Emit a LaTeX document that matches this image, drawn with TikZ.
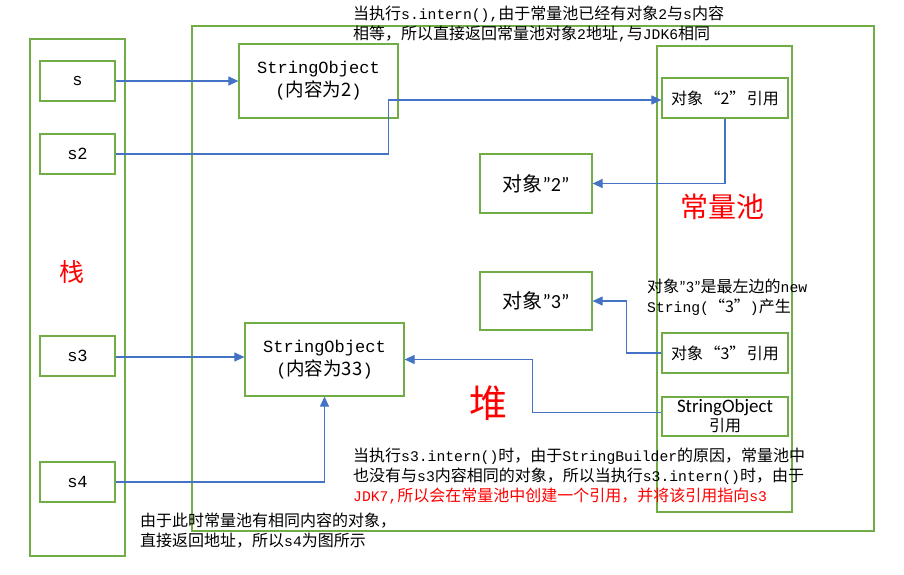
\documentclass[tikz,border=0pt]{standalone}
\usepackage{fontspec}
\setmainfont{Noto Sans CJK SC}
\newfontfamily\monof{Liberation Mono}[Scale=0.92]
\newfontfamily\calfont{Carlito}
\usetikzlibrary{arrows.meta,calc}
\definecolor{grn}{HTML}{70AD47}
\definecolor{blu}{HTML}{4472C4}
\begin{document}
\begin{tikzpicture}[x=1pt,y=-1pt,
 box/.style={draw=grn,line width=1.2pt,inner sep=0pt,align=center},
 arr/.style={draw=blu,line width=1.1pt,-{Triangle[length=10pt,width=9pt]}},
 big/.style={font=\fontsize{18.5}{23}\selectfont},
 objf/.style={font=\fontsize{20}{23}\selectfont},
 small/.style={font=\fontsize{16}{19}\selectfont},
 note/.style={anchor=base west,inner sep=0pt,align=left,font=\fontsize{16}{20}\selectfont},
 lbl/.style={text=red,inner sep=0pt}]
\useasboundingbox (0,0) rectangle (904,574);
% containers
\node[box,minimum width=95pt,minimum height=517pt] (stack) at (77.5,297.5) {};
\node[box,minimum width=682pt,minimum height=505pt] (heap) at (533,278.5) {};
\node[box,minimum width=135pt,minimum height=466pt] (pool) at (724.5,279) {};
% stack boxes
\node[box,big,minimum width=75pt,minimum height=40pt] (s) at (77.5,81) {\monof s};
\node[box,big,minimum width=75pt,minimum height=40pt] (s2) at (77.5,154) {\monof s2};
\node[box,big,minimum width=75pt,minimum height=40pt] (s3) at (77.5,356) {\monof s3};
\node[box,big,minimum width=75pt,minimum height=40pt] (s4) at (77.5,482) {\monof s4};
% heap objects
\node[box,big,minimum width=159pt,minimum height=74pt] (so2) at (318.5,81) {{\monof StringObject}\\{\monof (}内容为2{\monof )}};
\node[box,big,minimum width=159pt,minimum height=73pt] (so33) at (324.5,359.5) {{\monof StringObject}\\{\monof (}内容为33{\monof )}};
\node[box,objf,minimum width=112pt,minimum height=59pt] (obj2) at (536,183.5) {对象{\calfont ”2”}};
\node[box,objf,minimum width=112pt,minimum height=58pt] (obj3) at (536,301) {对象{\calfont ”3”}};
% pool entries
\node[box,small,minimum width=126pt,minimum height=40pt] (ref2) at (725,98) {对象\hspace{1.5pt}“2”\hspace{1.5pt}引用};
\node[box,small,minimum width=126pt,minimum height=40pt] (ref3) at (725,353) {对象\hspace{1.5pt}“3”\hspace{1.5pt}引用};
\node[box,small,minimum width=126pt,minimum height=39pt] (sref) at (725,416.5) {{\calfont\fontsize{19}{19}\selectfont StringObject}\\引用};
% connectors
\draw[arr] (s.east) -- (so2.west);
\draw[arr] (s2.east) -- ++(273,0) |- ([yshift=-2pt]ref2.west);
\draw[arr] (ref2.south) |- (obj2.east);
\draw[arr] (ref3.west) -- ++(-35,0) |- (obj3.east);
\draw[arr] ([yshift=4pt]sref.west) -- ++(-129,0) |- (so33.east);
\draw[arr] ([yshift=-1pt]s3.east) -- ([yshift=-1pt]s3.east -| so33.west);
\draw[arr] (s4.east) -| (so33.south);
% region labels
\node[lbl,font=\fontsize{25}{25}\selectfont] (lstack) at (72,272) {栈};
\node[lbl,font=\fontsize{28}{28}\selectfont] (lpool) at (722,207) {常量池};
\node[lbl,font=\fontsize{38}{38}\selectfont] (lheap) at (488,403) {堆};
% notes (base anchor = baseline of last line)
\node[note] (ntop) at (353,39) {当执行{\monof s.intern(),}由于常量池已经有对象{\monof 2}与{\monof s}内容\\相等，所以直接返回常量池对象{\monof 2}地址{\monof ,}与{\monof JDK6}相同};
\node[note] (npool) at (647,312) {对象{\calfont ”3”}是最左边的{\monof new}\\{\monof String(}“3”{\monof )}产生};
\node[note] (nmid) at (353,501) {当执行{\monof s3.intern()}时，由于{\monof StringBuilder}的原因，常量池中\\也没有与{\monof s3}内容相同的对象，所以当执行{\monof s3.intern()}时，由于\\\textcolor{red}{{\monof JDK7,}所以会在常量池中创建一个引用，并将该引用指向{\monof s3}}};
\node[note] (nbot) at (140,546) {由于此时常量池有相同内容的对象，\\直接返回地址，所以{\monof s4}为图所示};
\end{tikzpicture}
\end{document}
